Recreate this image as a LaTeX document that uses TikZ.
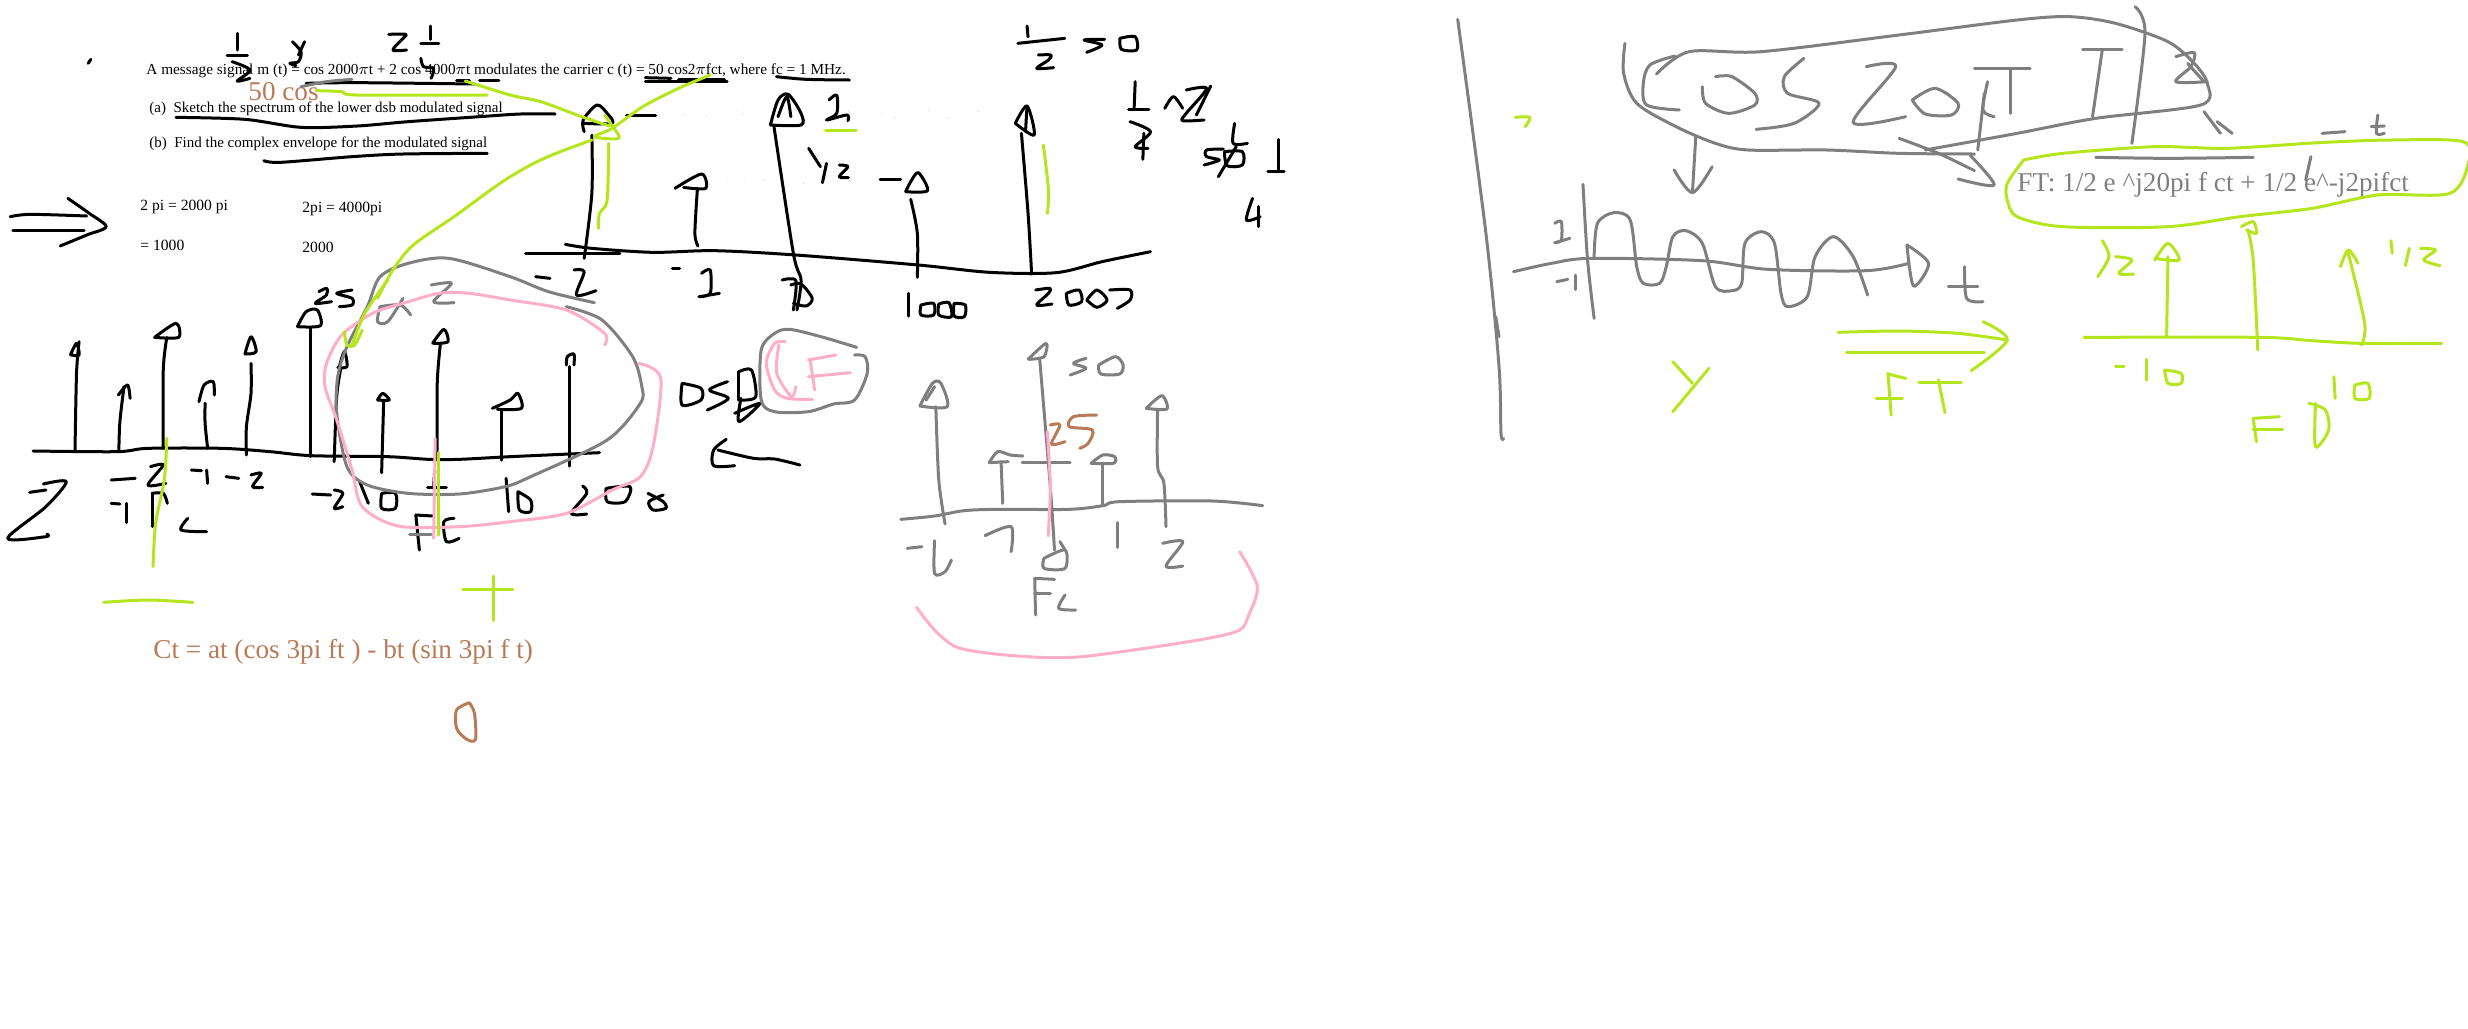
\documentclass[tikz,border=0pt]{standalone}
\usepackage{fontspec}
\setmainfont{Liberation Serif}
\definecolor{inkgreen}{RGB}{181,230,29}
\definecolor{inkpink}{RGB}{255,174,201}
\definecolor{inkgray}{RGB}{127,127,127}
\definecolor{inkbrown}{RGB}{185,122,87}
\newcommand{\ink}[1]{\draw plot[smooth,tension=0.5] coordinates {#1};}
\newcommand{\inkdots}[1]{\foreach \p in {#1}{\fill[black] \p circle (0.5);}}
\tikzset{
    pen/.style       = {line width=1.5pt, line cap=round, line join=round},
    blackpen/.style  = {pen, color=black},
    greenpen/.style  = {pen, color=inkgreen},
    pinkpen/.style   = {pen, color=inkpink},
    graypen/.style   = {pen, color=inkgray},
    brownpen/.style  = {pen, color=inkbrown},
    typed/.style     = {anchor=west, inner sep=0pt, font=\fontsize{7.65}{10}\selectfont},
    typedsmall/.style= {anchor=west, inner sep=0pt, font=\fontsize{7.5}{10}\selectfont},
    typednote/.style = {anchor=west, inner sep=0pt, font=\fontsize{7.8}{10}\selectfont},
    typedbig/.style  = {anchor=west, inner sep=0pt, font=\fontsize{13.6}{16}\selectfont},
    viewA/.style     = {x=0.2551pt, y=-0.16667pt},
    viewB/.style     = {shift={(0,280)}, x=0.2551pt, y=-0.16667pt},
    viewC/.style     = {shift={(500,0)}, x=0.2551pt, y=-0.16667pt},
    viewD/.style     = {shift={(640,300)}, x=0.2104pt, y=-0.16667pt},
    viewE/.style     = {shift={(1440,0)}, x=0.3279pt, y=-0.16667pt},
}
\begin{document}
\begin{tikzpicture}[x=0.5pt,y=-0.5pt]
    \useasboundingbox (0,0) rectangle (2468,1028);
    % typed text
    \node[typed] (question) at (146,70.5) {A message signal m (t) = cos 2000$\pi$t + 2 cos 4000$\pi$t modulates the carrier c (t) = 50 cos2$\pi$fct, where fc = 1 MHz.};
    \node[typedsmall] (parta) at (149,108.5) {(a)\ \ Sketch the spectrum of the lower dsb modulated signal};
    \node[typedsmall] (partb) at (149,143.5) {(b)\ \ Find the complex envelope for the modulated signal};
    \node[typednote] (pione) at (140,207) {2 pi = 2000 pi};
    \node[typednote] (pitwo) at (302,209) {2pi = 4000pi};
    \node[typednote] (fone) at (140,245) {= 1000};
    \node[typednote] (ftwo) at (302,247) {2000};
    \node[typedbig,text=inkbrown] (carrier) at (248,92) {50 cos};
    \node[typedbig,text=inkbrown] (envelope) at (153,652) {Ct = at (cos 3pi ft ) - bt (sin 3pi f t)};
    \node[typedbig,text=inkgray] (fourier) at (2017,185) {FT: 1/2 e \^{}j20pi f ct + 1/2 e\^{}-j2pifct};

    % question page, black ink
    \begin{scope}[viewA,blackpen]
        \ink{(173,190) (178,178)}
        \ink{(465,100) (465,150)}
        \ink{(445,167) (485,167)}
        \ink{(455,185) (490,210) (465,243) (490,235)}
        \ink{(573,125) (590,155) (585,185) (568,190) (580,197)}
        \ink{(597,125) (585,165)}
        \ink{(762,103) (795,103) (790,115) (770,150) (797,150)}
        \ink{(843,78) (843,118)}
        \ink{(825,130) (860,130)}
        \ink{(825,175) (830,200) (850,205) (845,235)}
        \ink{(600,250) (700,248) (930,252)}
        \ink{(895,240) (920,240)}
        \ink{(940,240) (978,240)}
        \ink{(1265,233) (1315,235)}
        \ink{(1265,245) (1425,245)}
        \ink{(1330,238) (1420,238)}
        \ink{(345,352) (480,358) (590,382) (700,378) (800,365) (940,350) (1020,342) (1088,342)}
        \ink{(1228,346) (1285,346)}
        \ink{(517,482) (550,487) (690,470) (790,462) (955,460)}
        \ink{(20,650) (60,643) (170,648)}
        \ink{(25,690) (165,690)}
        \ink{(133,595) (175,640) (208,680) (170,705) (118,738)}
    \end{scope}
    % upper spectrum
    \begin{scope}[viewC,blackpen]
        \ink{(542,230) (600,238) (685,240)}
        \ink{(50,760) (235,760)}
        \ink{(128,733) (180,745) (300,757) (420,752) (580,765) (820,795) (960,817) (1090,818) (1180,785) (1275,755)}
        \ink{(165,775) (180,580) (180,405)}
        \ink{(165,395) (163,360) (190,315) (210,340) (220,370) (165,370)}
        \ink{(388,738) (382,700) (387,565)}
        \ink{(343,565) (395,522) (403,565) (360,562)}
        \ink{(582,930) (590,840) (575,760) (537,380)}
        \ink{(530,375) (590,375) (590,340) (565,283) (545,300) (530,375)}
        \ink{(545,350) (562,290) (570,350)}
        \ink{(818,832) (818,700) (805,598)}
        \ink{(795,575) (838,572) (820,518) (805,545) (795,575)}
        \ink{(745,537) (785,537)}
        \ink{(1042,822) (1035,640) (1022,400)}
        \ink{(1010,370) (1033,318) (1047,405) (1010,370)}
        \ink{(1033,318) (1030,395)}
        \inkdots{(362,345),(405,348),(463,332),(475,342),(683,335),(745,338),(773,352),(840,332),(878,352),(938,335),(445,540),(480,540),(518,540),(595,550),(687,545)}
        \ink{(645,300) (660,285) (660,340) (640,360) (680,345) (682,362)}
        \ink{(605,445) (628,500)}
        \ink{(640,490) (632,548)}
        \ink{(665,495) (682,500) (665,530) (683,533)}
        \ink{(70,830) (98,835)}
        \ink{(145,810) (165,815) (150,885) (188,872)}
        \ink{(338,805) (352,805)}
        \ink{(395,820) (412,810) (412,880) (390,890) (430,880)}
        \ink{(553,840) (580,842) (575,930)}
        \ink{(570,855) (590,852) (612,895) (600,918) (575,910)}
        \ink{(800,880) (800,948)}
        \ink{(825,915) (850,910) (850,945) (825,945) (825,915)}
        \ink{(860,912) (880,908) (885,950) (860,945) (860,912)}
        \ink{(890,910) (912,915) (910,950) (890,948) (890,910)}
        \ink{(1050,870) (1078,865) (1075,880) (1052,915) (1082,912)}
        \ink{(1110,880) (1135,870) (1140,905) (1115,915) (1110,880)}
        \ink{(1150,900) (1170,870) (1190,900) (1170,922) (1150,900)}
        \ink{(1195,870) (1235,870) (1235,900) (1210,925)}
        \ink{(1033,78) (1035,110)}
        \ink{(1015,130) (1107,115)}
        \ink{(1055,165) (1080,165) (1075,180) (1052,205) (1085,203)}
        \ink{(1185,118) (1145,120) (1180,135) (1150,157)}
        \ink{(1215,115) (1245,110) (1248,150) (1218,148) (1215,115)}
        \ink{(1245,245) (1243,322)}
        \ink{(1232,328) (1272,328)}
        \ink{(1235,365) (1275,395) (1245,440) (1270,445)}
        \ink{(1262,400) (1260,478)}
        \ink{(1303,325) (1320,290) (1338,325)}
        \ink{(1345,270) (1385,265) (1345,340) (1338,362) (1380,360)}
        \ink{(1393,258) (1365,345)}
        \ink{(1440,370) (1437,430) (1465,430)}
        \ink{(1418,447) (1385,450) (1385,470) (1410,480) (1380,495)}
        \ink{(1420,455) (1455,455) (1455,495) (1425,497) (1420,455)}
        \ink{(1443,440) (1408,530)}
        \ink{(1525,418) (1525,512)}
        \ink{(1505,515) (1537,515)}
        \ink{(1475,595) (1463,660) (1490,650)}
        \ink{(1487,620) (1487,680)}
    \end{scope}
    % lower spectrum
    \begin{scope}[viewB,blackpen]
        \ink{(65,513) (230,515) (290,505) (435,505) (530,515) (610,527) (760,530) (840,538) (900,538) (1000,530) (1175,518)}
        \ink{(147,515) (150,280) (155,185)}
        \ink{(138,225) (150,190) (155,225) (140,225)}
        \ink{(233,510) (235,425) (243,320)}
        \ink{(232,345) (250,315) (255,355)}
        \ink{(320,505) (320,270) (327,172)}
        \ink{(303,172) (345,130) (350,172) (303,172)}
        \ink{(407,505) (402,430) (402,370)}
        \ink{(390,365) (400,315) (418,305) (420,345)}
        \ink{(483,525) (483,440) (492,340) (492,250)}
        \ink{(480,222) (492,170) (502,215) (482,222)}
        \ink{(608,530) (608,145)}
        \ink{(583,140) (600,95) (622,90) (628,137) (583,140)}
        \ink{(655,545) (660,350) (668,265)}
        \ink{(665,260) (675,215) (680,260) (662,262)}
        \ink{(748,578) (752,365)}
        \ink{(740,360) (750,340) (763,360) (740,360)}
        \ink{(857,535) (857,310) (863,195)}
        \ink{(848,190) (870,148) (878,185) (850,190)}
        \ink{(983,540) (983,390)}
        \ink{(965,385) (1000,360) (1015,340) (1022,385) (975,388)}
        \ink{(1117,558) (1117,260)}
        \ink{(1110,255) (1112,230) (1125,222) (1125,255)}
        \ink{(218,600) (265,595)}
        \ink{(295,560) (320,555) (290,615) (325,610)}
        \ink{(375,570) (395,572)}
        \ink{(405,570) (407,610)}
        \ink{(443,590) (468,595)}
        \ink{(492,585) (512,580) (495,620) (515,622)}
        \ink{(218,670) (235,672)}
        \ink{(247,670) (247,728)}
        \ink{(298,640) (298,740)}
        \ink{(298,640) (320,640) (328,670)}
        \ink{(368,715) (355,750) (405,755)}
        \ink{(58,637) (90,630)}
        \ink{(85,612) (130,605) (90,680) (15,775) (90,770) (92,762)}
        \ink{(612,642) (648,645)}
        \ink{(655,630) (672,640) (655,685) (672,680)}
        \ink{(705,605) (722,670)}
        \ink{(748,640) (775,640) (775,685) (748,685) (748,640)}
        \ink{(852,570) (850,622)}
        \ink{(838,622) (875,622)}
        \ink{(992,595) (997,695)}
        \ink{(1015,635) (1040,660) (1040,695) (1018,690) (1015,635)}
        \ink{(1142,618) (1150,640) (1120,700) (1150,702)}
        \ink{(1188,625) (1235,620) (1225,665) (1190,665) (1188,625)}
        \ink{(1270,640) (1300,665) (1305,685) (1280,690) (1272,665) (1300,645)}
        \ink{(815,705) (822,810)}
        \ink{(815,705) (848,708)}
        \ink{(890,715) (870,725) (875,785) (900,775)}
        \ink{(625,35) (640,25) (640,45) (618,70) (650,65)}
        \ink{(690,30) (660,40) (690,55) (690,75) (665,80)}
    \end{scope}
    % DSB, arrow
    \begin{scope}[viewD,blackpen]
        \ink{(100,250) (100,315) (145,300) (145,265) (100,250)}
        \ink{(208,245) (165,270) (210,295) (160,330)}
        \ink{(235,215) (235,300)}
        \ink{(235,215) (265,210) (275,290) (240,300)}
        \ink{(240,295) (235,365) (285,310) (225,340)}
        \ink{(185,450) (270,475) (320,477) (380,495)}
        \ink{(205,418) (175,450) (175,497) (225,497)}
    \end{scope}

    % gray ink, left part
    \begin{scope}[viewA,graypen]
        \ink{(590,260) (640,245) (690,238)}
    \end{scope}
    \begin{scope}[viewB,graypen]
        \ink{(1110,80) (1180,120) (1240,230) (1258,320) (1255,370) (1190,480) (1040,590) (990,620) (900,642) (800,640) (720,615) (680,560) (660,400) (662,290) (680,200) (720,80) (745,-10) (800,-50) (880,-65) (1000,-10) (1075,35) (1165,68)}
        \ink{(845,15) (885,10) (850,65) (890,68)}
        \ink{(745,80) (740,125) (760,125) (790,55)}
        \ink{(745,80) (785,75) (805,105)}
        \ink{(803,763) (845,763)}
    \end{scope}
    \begin{scope}[viewD,graypen]
        \ink{(515,142) (430,110) (355,88) (320,100) (288,150) (288,300) (320,335) (400,335) (460,312) (510,300) (540,220) (535,170) (510,165)}
        \ink{(620,658) (700,648) (770,632) (850,628) (1020,628) (1100,617) (1140,605) (1360,603) (1480,617)}
        \ink{(725,672) (710,540) (703,320)}
        \ink{(665,318) (695,250) (715,250) (730,320) (665,318)}
        \ink{(680,300) (700,260)}
        \ink{(862,610) (858,485)}
        \ink{(830,488) (850,455) (880,465) (910,468)}
        \ink{(830,488) (875,485)}
        \ink{(985,750) (975,560) (950,180)}
        \ink{(922,178) (965,130) (960,170) (925,178)}
        \ink{(1100,617) (1100,495)}
        \ink{(1072,490) (1100,465) (1128,470) (1125,490) (1072,490)}
        \ink{(1250,680) (1245,550) (1230,500) (1230,330)}
        \ink{(1203,325) (1240,287) (1252,327) (1203,325)}
        \ink{(908,488) (1022,488)}
        \ink{(635,745) (670,740)}
        \ink{(700,722) (700,820) (725,815) (740,780)}
        \ink{(820,707) (882,680) (882,755)}
        \ink{(1134,668) (1134,742)}
        \ink{(1242,730) (1290,725) (1250,798) (1290,798)}
        \ink{(960,775) (1010,750) (1010,805) (960,805) (960,775)}
        \ink{(998,725) (1010,750)}
        \ink{(938,835) (940,945)}
        \ink{(938,835) (985,838)}
        \ink{(938,880) (975,880)}
        \ink{(1010,885) (995,925) (1035,930)}
        \ink{(1060,175) (1030,190) (1060,205) (1022,225)}
        \ink{(1090,195) (1130,170) (1148,195) (1140,222) (1095,222) (1090,195)}
        \fill (1316,161) circle (0.5);
    \end{scope}

    % pink ink
    \begin{scope}[viewB,pinkpen]
        \ink{(1185,195) (1185,160) (1110,90) (1000,60) (920,40) (860,40) (790,70) (730,100) (670,165) (640,250) (637,320) (660,420) (690,570) (710,680) (780,738) (900,740) (1000,725) (1110,700) (1200,630) (1255,590) (1280,500) (1295,295) (1252,250)}
        \ink{(853,475) (850,775)}
    \end{scope}
    \begin{scope}[viewD,pinkpen]
        \ink{(345,125) (320,130) (300,190) (320,270) (350,295) (410,298)}
        \ink{(330,135) (325,220) (360,290) (370,260)}
        \ink{(400,180) (465,165)}
        \ink{(405,185) (415,270)}
        \ink{(400,230) (500,218)}
        \ink{(968,395) (975,560) (970,708)}
        \ink{(657,922) (700,990) (750,1040) (830,1060) (950,1072) (1050,1070) (1200,1045) (1350,1015) (1425,990) (1445,950) (1467,860) (1425,755)}
    \end{scope}

    % green ink, left part
    \begin{scope}[viewA,greenpen]
        \ink{(620,272) (670,275) (700,285) (955,285)}
        \ink{(912,243) (1000,285) (1060,305) (1140,350) (1195,378)}
        \ink{(1185,345) (1200,378) (1213,415) (1165,410) (1200,385) (1260,320) (1330,265) (1392,225)}
        \ink{(1160,420) (1090,460) (1040,495) (980,550) (890,650) (810,735) (770,810) (740,895)}
        \ink{(1193,430) (1190,600) (1175,640) (1173,685)}
    \end{scope}
    \begin{scope}[viewC,greenpen]
        \ink{(638,391) (698,391)}
        \ink{(1065,435) (1075,570) (1073,640)}
    \end{scope}
    \begin{scope}[viewB,greenpen]
        \ink{(760,0) (715,100) (690,195)}
        \ink{(675,155) (680,195) (695,195) (710,150)}
        \ink{(327,475) (322,600) (305,730) (300,860)}
        \ink{(860,518) (860,765)}
        \ink{(203,967) (290,960) (378,967)}
        \ink{(907,928) (1005,928)}
        \ink{(968,888) (968,1022)}
    \end{scope}

    % brown ink
    \begin{scope}[viewD,brownpen]
        \ink{(975,375) (998,375) (978,432) (1010,425)}
        \ink{(1085,345) (1030,350) (1020,380) (1075,390) (1065,430) (1045,445)}
    \end{scope}
    \begin{scope}[viewB,brownpen]
        \ink{(920,1268) (895,1290) (895,1345) (915,1378) (932,1378) (930,1300) (920,1268)}
    \end{scope}

    % right part, gray ink
    \begin{scope}[viewE,graypen]
        \ink{(27,58) (70,700) (90,1100) (93,1300) (97,1315)}
        \ink{(85,950) (90,1010)}
        \ink{(330,222) (380,155) (490,155) (700,105) (880,60) (960,50) (1030,70) (1110,125) (1150,190) (1170,250) (1160,315) (1000,355) (880,400) (740,450)}
        \ink{(282,130) (280,220) (300,310) (360,380) (420,430) (470,450) (590,450) (700,460) (815,462)}
        \ink{(358,168) (320,195) (310,250) (315,315) (365,330)}
        \ink{(420,230) (445,230) (480,280) (480,315) (440,340) (405,310) (400,260)}
        \ink{(555,175) (525,230) (530,280) (578,310) (540,370) (482,388)}
        \ink{(650,200) (695,200) (630,367) (710,350)}
        \ink{(720,300) (755,265) (790,310) (780,345) (740,342) (720,300)}
        \ink{(815,205) (900,205)}
        \ink{(870,205) (870,340)}
        \ink{(835,245) (828,330) (845,350)}
        \ink{(830,280) (820,450)}
        \ink{(980,148) (1040,148)}
        \ink{(1010,148) (995,350)}
        \ink{(1060,20) (1075,100) (1055,430)}
        \ink{(1122,170) (1150,158) (1145,200) (1122,245) (1170,245)}
        \ink{(1140,190) (1165,245)}
        \ink{(390,410) (385,575)}
        \ink{(357,510) (385,578) (415,500)}
        \ink{(700,415) (760,460) (815,512)}
        \ink{(808,465) (845,555) (790,537)}
        \ink{(1165,335) (1190,400)}
        \ink{(1185,365) (1208,400)}
        \ink{(1000,472) (1110,475) (1240,472)}
        \ink{(1345,400) (1380,395)}
        \ink{(1430,345) (1428,400) (1440,400)}
        \ink{(1420,380) (1440,378)}
        \ink{(1328,470) (1320,540)}
        \ink{(112,815) (170,790) (230,775) (400,782) (500,808) (650,812) (715,790)}
        \ink{(712,735) (745,790) (722,858) (712,735)}
        \ink{(218,553) (225,780) (235,955)}
        \ink{(235,770) (240,670) (265,638) (290,660) (300,800) (310,850) (335,850) (345,800) (355,710) (375,692) (400,730) (420,860) (445,872) (460,850) (465,730) (490,695) (510,730) (520,880) (530,920) (560,890) (572,770) (600,710) (630,770) (652,885)}
        \ink{(175,670) (185,665) (185,720) (175,728) (198,715)}
        \ink{(178,845) (195,838)}
        \ink{(207,825) (207,868)}
        \ink{(775,858) (820,858)}
        \ink{(800,800) (803,895) (828,905)}
    \end{scope}
    % right part, green ink
    \begin{scope}[viewE,greenpen]
        \ink{(115,352) (137,352) (130,380)}
        \ink{(890,480) (950,460) (1090,440) (1200,445) (1340,428) (1450,420) (1560,425) (1568,490) (1540,580) (1430,585) (1330,625) (1220,650) (1110,680) (950,680) (880,650) (865,600) (865,550) (890,480)}
        \ink{(982,1012) (1250,1012) (1330,1022) (1405,1030) (1527,1030)}
        \ink{(1108,1010) (1110,770)}
        \ink{(1090,780) (1110,730) (1127,780) (1090,775)}
        \ink{(1247,1050) (1240,780) (1232,690)}
        \ink{(1222,680) (1240,665) (1245,700) (1230,690)}
        \ink{(1405,1035) (1410,970) (1385,760)}
        \ink{(1373,800) (1385,750) (1400,790)}
        \ink{(1010,722) (1020,770) (1003,830)}
        \ink{(1030,770) (1055,780) (1035,820) (1058,822)}
        \ink{(1450,722) (1452,760)}
        \ink{(1478,745) (1472,797)}
        \ink{(1495,745) (1518,750) (1500,780) (1525,797)}
        \ink{(1030,1098) (1043,1098)}
        \ink{(1078,1078) (1078,1140)}
        \ink{(1105,1110) (1130,1120) (1130,1150) (1110,1150) (1105,1110)}
        \ink{(1363,1130) (1365,1195)}
        \ink{(1395,1155) (1415,1150) (1417,1195) (1395,1195) (1395,1155)}
        \ink{(1240,1255) (1280,1250)}
        \ink{(1240,1255) (1245,1325)}
        \ink{(1240,1288) (1285,1288)}
        \ink{(1335,1210) (1335,1340) (1355,1290) (1350,1230) (1325,1210)}
        \ink{(607,997) (700,993) (790,1000) (865,1020)}
        \ink{(620,1057) (830,1057)}
        \ink{(828,965) (865,1020) (810,1112)}
        \ink{(355,1085) (385,1150)}
        \ink{(410,1105) (355,1235)}
        \ink{(683,1120) (688,1245)}
        \ink{(683,1122) (710,1135)}
        \ink{(665,1195) (705,1195)}
        \ink{(730,1147) (795,1147)}
        \ink{(760,1140) (770,1238)}
    \end{scope}
\end{tikzpicture}
\end{document}
